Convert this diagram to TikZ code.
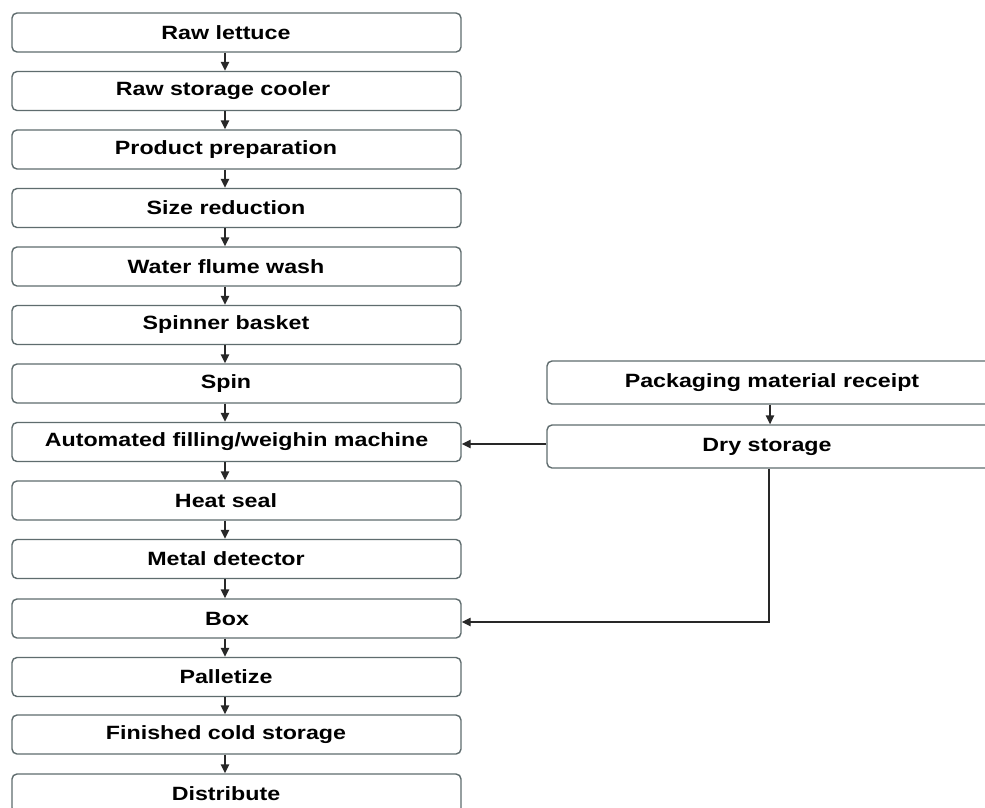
\documentclass[tikz,border=0pt]{standalone}
\usepackage{fontspec}
\setmainfont{Liberation Sans}[FakeStretch=1.21]
\usetikzlibrary{arrows.meta}
\definecolor{boxgray}{RGB}{95,108,110}
\definecolor{linegray}{RGB}{40,40,40}
\begin{document}
\begin{tikzpicture}[x=1pt,y=-1pt,
  box/.style={draw=boxgray, line width=1.4pt, rounded corners=5pt, fill=white, inner sep=0pt},
  lbox/.style={box, minimum width=449pt, minimum height=39pt},
  rbox/.style={box, minimum width=446pt, minimum height=43pt},
  txt/.style={font=\bfseries\fontsize{19.2}{21}\selectfont, inner sep=0pt, text=black},
  arr/.style={draw=linegray, line width=1.4pt, -{Triangle[length=9pt,width=8.5pt]}}]
\useasboundingbox (0,0) rectangle (985,807);
\clip (0,0) rectangle (985,807);
\fill[white] (0,0) rectangle (985,807);
% left column
\node[lbox] (l0)  at (236.5, 32.5) {};
\node[lbox] (l1)  at (236.5, 91.0) {};
\node[lbox] (l2)  at (236.5,149.5) {};
\node[lbox] (l3)  at (236.5,208.0) {};
\node[lbox] (l4)  at (236.5,266.5) {};
\node[lbox] (l5)  at (236.5,325.0) {};
\node[lbox] (l6)  at (236.5,383.5) {};
\node[lbox] (l7)  at (236.5,442.0) {};
\node[lbox] (l8)  at (236.5,500.5) {};
\node[lbox] (l9)  at (236.5,559.0) {};
\node[lbox] (l10) at (236.5,618.5) {};
\node[lbox] (l11) at (236.5,677.0) {};
\node[lbox] (l12) at (236.5,734.5) {};
\node[lbox] (l13) at (236.5,793.5) {};
\node[txt] (t0)  at (226, 32.5) {Raw lettuce};
\node[txt] (t1)  at (223, 91.0) {Raw storage cooler};
\node[txt] (t2)  at (226,149.5) {Product preparation};
\node[txt] (t3)  at (226,208.0) {Size reduction};
\node[txt] (t4)  at (226,266.5) {Water flume wash};
\node[txt] (t5)  at (226,325.0) {Spinner basket};
\node[txt] (t6)  at (226,383.5) {Spin};
\node[txt] (t7)  at (236.5,442.0) {Automated filling/weighin machine};
\node[txt] (t8)  at (226,500.5) {Heat seal};
\node[txt] (t9)  at (226,559.0) {Metal detector};
\node[txt] (t10) at (227,618.5) {Box};
\node[txt] (t11) at (226,677.0) {Palletize};
\node[txt] (t12) at (226,734.5) {Finished cold storage};
\node[txt] (t13) at (226,793.5) {Distribute};
\foreach \i [evaluate=\i as \j using int(\i+1)] in {0,...,12}
  \draw[arr] ([xshift=-11.5pt]l\i.south) -- ([xshift=-11.5pt]l\j.north);
% right column
\node[rbox] (r0) at (770,382.5) {};
\node[rbox] (r1) at (770,446.5) {};
\node[txt] (s0) at (772,382.5) {Packaging material receipt};
\node[txt] (s1) at (767,446.5) {Dry storage};
\draw[arr] (r0.south) -- (r1.north);
\draw[arr] (r1.west |- 0,444) -- (l7.east |- 0,444);
\draw[arr] ([xshift=-1pt]r1.south) -- ([xshift=-1pt]r1.south |- 0,622) -- (l10.east |- 0,622);
\end{tikzpicture}
\end{document}
